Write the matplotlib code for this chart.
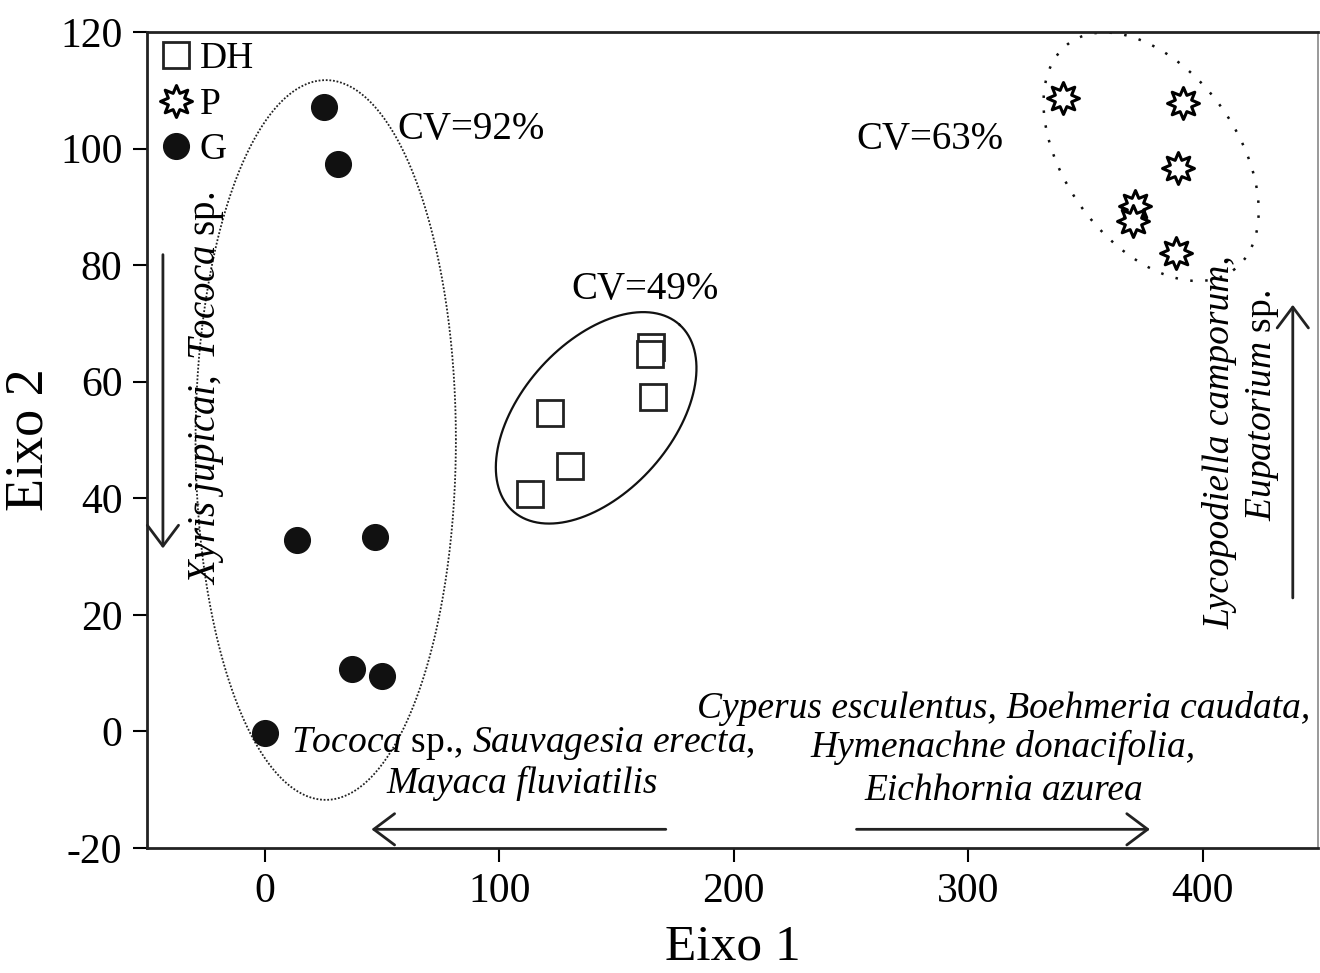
import matplotlib
matplotlib.use('Agg')
import matplotlib.pyplot as plt
import numpy as np
from matplotlib.path import Path

plt.rcParams['font.family'] = 'Liberation Serif'
plt.rcParams['mathtext.fontset'] = 'custom'
plt.rcParams['mathtext.rm'] = 'Liberation Serif'
plt.rcParams['mathtext.it'] = 'Liberation Serif:italic'
plt.rcParams['axes.unicode_minus'] = False

# grupo DH
dh_x = [164.6, 164.1, 165.5, 121.6, 130.2, 112.9]
dh_y = [66.0, 64.7, 57.4, 54.6, 45.6, 40.7]
# grupo P
p_x = [340.4, 391.5, 389.4, 370.9, 370.2, 388.6]
p_y = [108.7, 107.8, 96.7, 90.1, 87.5, 82.1]
# grupo G
g_x = [25.1, 31.1, 13.6, 47.2, 37.0, 49.8, 0.0]
g_y = [107.2, 97.3, 32.8, 33.3, 10.7, 9.5, -0.3]

cv_labels = ['CV=92%', 'CV=49%', 'CV=63%']
x_ticks = [0, 100, 200, 300, 400]
y_ticks = [-20, 0, 20, 40, 60, 80, 100, 120]

fig = plt.figure(figsize=(13.2, 9.73), dpi=100)
ax = fig.add_axes([0.1117, 0.1285, 0.8867, 0.8386])

estrela = Path.unit_regular_star(8, 0.55)

ax.plot(dh_x, dh_y, 's', ms=19, mfc='white', mec='#222222', mew=2, ls='none', label='DH', zorder=3)
ax.plot(p_x, p_y, marker=estrela, ms=23, mfc='white', mec='black', mew=2.2, ls='none', label='P', zorder=3)
ax.plot(g_x, g_y, 'o', ms=18.5, color='#111111', ls='none', label='G', zorder=3)

# elipses
t = np.linspace(0, 2 * np.pi, 400)
k = 2.35 / 5.82  # razao de escala y/x na figura

def elipse(cx, cy, a, b, ang):
    th = np.radians(ang)
    u = a * np.cos(t)
    v = b * np.sin(t)
    xx = cx + u * np.cos(th) - v * np.sin(th)
    yy = cy + (u * np.sin(th) + v * np.cos(th)) * k
    return xx, yy

ax.plot(26.0 + 55.5 * np.cos(t), 50.0 + 61.75 * np.sin(t), color='#222222', lw=1.3, ls=(0, (1, 1)))
ex, ey = elipse(141.3, 53.8, 53.2, 31.9, 48)
ax.plot(ex, ey, color='#111111', lw=1.6)
ex, ey = elipse(377.9, 98.6, 59.6, 36.6, -54)
ax.plot(ex, ey, color='#111111', lw=1.8, ls=(0, (1, 5)))

ax.text(56.6, 103.3, cv_labels[0], fontsize=28, va='center')
ax.text(130.6, 75.9, cv_labels[1], fontsize=28, va='center')
ax.text(252.3, 101.5, cv_labels[2], fontsize=28, va='center')

# especies
fs = 27
ax.text(110.2, -2.1, r'$\mathit{Tococa}$ sp., $\mathit{Sauvagesia\ erecta,}$', fontsize=fs, ha='center', va='center')
ax.text(109.8, -8.9, 'Mayaca fluviatilis', fontsize=fs, style='italic', ha='center', va='center')
ax.text(314.9, 4.0, 'Cyperus esculentus, Boehmeria caudata,', fontsize=fs, style='italic', ha='center', va='center')
ax.text(314.9, -2.7, 'Hymenachne donacifolia,', fontsize=fs, style='italic', ha='center', va='center')
ax.text(314.9, -10.1, 'Eichhornia azurea', fontsize=fs, style='italic', ha='center', va='center')
ax.text(-24.7, 58.9, r'$\mathit{Xyris\ jupicai,\ Tococa}$ sp.', fontsize=28, ha='center', va='center', rotation=90)
ax.text(407.2, 49.7, 'Lycopodiella camporum,', fontsize=fs, style='italic', ha='center', va='center', rotation=90)
ax.text(425.5, 56.0, r'$\mathit{Eupatorium}$ sp.', fontsize=fs, ha='center', va='center', rotation=90)

seta = dict(arrowstyle='->,head_length=0.6,head_width=0.45', lw=2, color='#222222', mutation_scale=25, shrinkA=0, shrinkB=0)
ax.annotate('', xy=(45.5, -16.8), xytext=(171, -16.8), arrowprops=seta)
ax.annotate('', xy=(377.4, -16.8), xytext=(252.3, -16.8), arrowprops=seta)
ax.annotate('', xy=(-43.4, 31.4), xytext=(-43.4, 81.8), arrowprops=seta)
ax.annotate('', xy=(438.3, 73.2), xytext=(438.3, 22.9), arrowprops=seta)

ax.set_xlim(-50, 449)
ax.set_ylim(-20, 120)
ax.set_xticks(x_ticks)
ax.set_yticks(y_ticks)
ax.tick_params(labelsize=30, direction='out', length=10, width=1.5, pad=8)
ax.set_xlabel('Eixo 1', fontsize=37, labelpad=9)
ax.set_ylabel('Eixo 2', fontsize=39, labelpad=4)
for s in ['left', 'bottom', 'top']:
    ax.spines[s].set_linewidth(2)
    ax.spines[s].set_color('#222222')
ax.spines['right'].set_linewidth(1.2)
ax.spines['right'].set_color('#888888')

ax.legend(loc='upper left', frameon=False, fontsize=27, handletextpad=0.15, labelspacing=0.3,
          borderaxespad=0.2, borderpad=0.05, markerscale=1.0, handlelength=1.0)

plt.savefig('out.png', dpi=100)
